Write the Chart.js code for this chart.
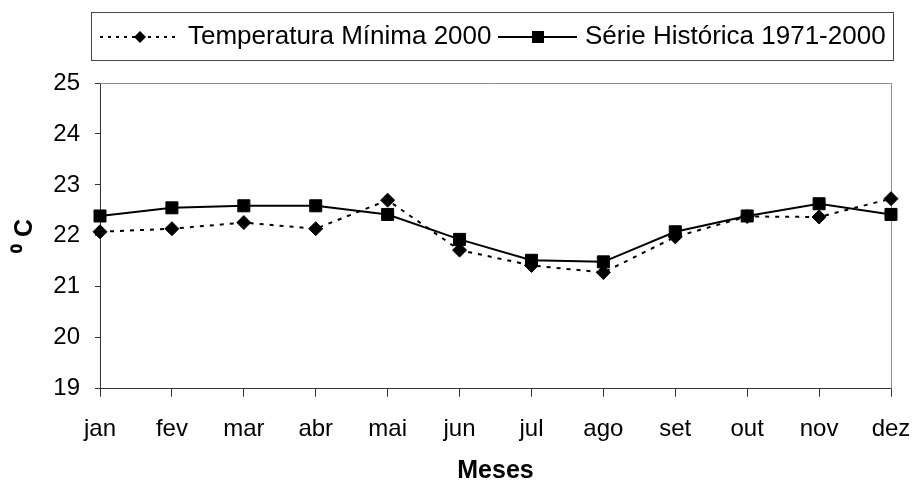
<!DOCTYPE html>
<html>
<head>
<meta charset="utf-8">
<script src="https://cdn.jsdelivr.net/npm/chart.js@4/dist/chart.umd.min.js"></script>
<style>
  body { margin: 0; background: #fff; }
  #wrap { width: 915px; height: 482px; }
</style>
</head>
<body>
<div id="wrap"><canvas id="chart" width="915" height="482"></canvas></div>
<script>
// Monthly minimum temperature (°C)
const months = ["jan", "fev", "mar", "abr", "mai", "jun", "jul", "ago", "set", "out", "nov", "dez"];
const minTemp2000 = [22.08, 22.14, 22.26, 22.14, 22.70, 21.72, 21.42, 21.28, 21.98, 22.38, 22.37, 22.73];
const historical = [22.39, 22.55, 22.59, 22.59, 22.42, 21.93, 21.52, 21.49, 22.08, 22.39, 22.63, 22.42];
const seriesNames = ["Temperatura Mínima 2000", "Série Histórica 1971-2000"];
const yMin = 19;
const yMax = 25;

const FONT = "'Liberation Sans', Arial, sans-serif";

// gray frame on top/right of the plot area
const framePlugin = {
  id: "frame",
  beforeDatasetsDraw(chart) {
    const { ctx, chartArea: a } = chart;
    ctx.save();
    ctx.strokeStyle = "#8c8c8c";
    ctx.lineWidth = 1;
    ctx.beginPath();
    ctx.moveTo(a.left, a.top + 0.5);
    ctx.lineTo(a.right + 0.5, a.top + 0.5);
    ctx.lineTo(a.right + 0.5, a.bottom);
    ctx.stroke();
    ctx.restore();
  },
};

// boxed legend with line + marker samples
const boxLegendPlugin = {
  id: "boxLegend",
  afterDraw(chart) {
    const ctx = chart.ctx;
    const cy = 37;
    ctx.save();
    ctx.strokeStyle = "#444";
    ctx.lineWidth = 1;
    ctx.strokeRect(91.5, 12.5, 802, 48);

    ctx.strokeStyle = "#000";
    ctx.fillStyle = "#000";
    ctx.lineWidth = 2;

    // dotted sample with diamond
    ctx.setLineDash([3, 5]);
    ctx.beginPath();
    ctx.moveTo(100, cy);
    ctx.lineTo(178, cy);
    ctx.stroke();
    ctx.setLineDash([]);
    ctx.beginPath();
    ctx.moveTo(140, cy - 6);
    ctx.lineTo(146, cy);
    ctx.lineTo(140, cy + 6);
    ctx.lineTo(134, cy);
    ctx.closePath();
    ctx.fill();

    // solid sample with square
    ctx.beginPath();
    ctx.moveTo(498, cy);
    ctx.lineTo(577, cy);
    ctx.stroke();
    ctx.fillRect(532, cy - 6, 12, 12);

    ctx.font = "26px " + FONT;
    ctx.textBaseline = "middle";
    ctx.textAlign = "left";
    ctx.fillText(seriesNames[0], 188, cy);
    ctx.fillText(seriesNames[1], 585, cy);
    ctx.restore();
  },
};

new Chart(document.getElementById("chart"), {
  type: "line",
  data: {
    labels: months,
    datasets: [
      {
        label: seriesNames[0],
        data: minTemp2000,
        borderColor: "#000",
        backgroundColor: "#000",
        borderWidth: 2,
        borderDash: [4, 6],
        pointStyle: "rectRot",
        pointRadius: 7,
        pointBorderWidth: 1,
        tension: 0,
        clip: false,
        order: 1,
      },
      {
        label: seriesNames[1],
        data: historical,
        borderColor: "#000",
        backgroundColor: "#000",
        borderWidth: 2,
        pointStyle: "rect",
        pointRadius: 8.5,
        pointBorderWidth: 1,
        tension: 0,
        clip: false,
        order: 0,
      },
    ],
  },
  options: {
    responsive: false,
    animation: false,
    layout: {
      padding: { top: 83, right: 24, bottom: 0, left: 0 },
    },
    plugins: {
      legend: { display: false },
      tooltip: { enabled: false },
    },
    scales: {
      x: {
        type: "category",
        offset: false,
        grid: {
          drawOnChartArea: false,
          drawTicks: true,
          tickLength: 8,
          color: "#333",
        },
        border: { display: true, color: "#333", width: 1 },
        ticks: {
          color: "#000",
          padding: 18,
          maxRotation: 0,
          autoSkip: false,
          font: { family: FONT, size: 24 },
        },
        title: {
          display: true,
          text: "Meses",
          color: "#000",
          padding: { top: -2, bottom: 0 },
          font: { family: FONT, size: 25, weight: "bold", lineHeight: 0.9 },
        },
        afterFit(scale) {
          scale.paddingLeft = 0;
          scale.paddingRight = 0;
        },
      },
      y: {
        min: yMin,
        max: yMax,
        grid: {
          drawOnChartArea: false,
          drawTicks: true,
          tickLength: 5,
          color: "#333",
        },
        border: { display: true, color: "#333", width: 1 },
        ticks: {
          stepSize: 1,
          color: "#000",
          padding: 15,
          font: { family: FONT, size: 24 },
        },
        title: {
          display: true,
          text: "⁰ C",
          color: "#000",
          padding: { top: 13, bottom: 0 },
          font: { family: FONT, size: 25, weight: "bold", lineHeight: 1 },
        },
        afterFit(scale) {
          scale.width = 100;
        },
      },
    },
  },
  plugins: [framePlugin, boxLegendPlugin],
});
</script>
</body>
</html>
